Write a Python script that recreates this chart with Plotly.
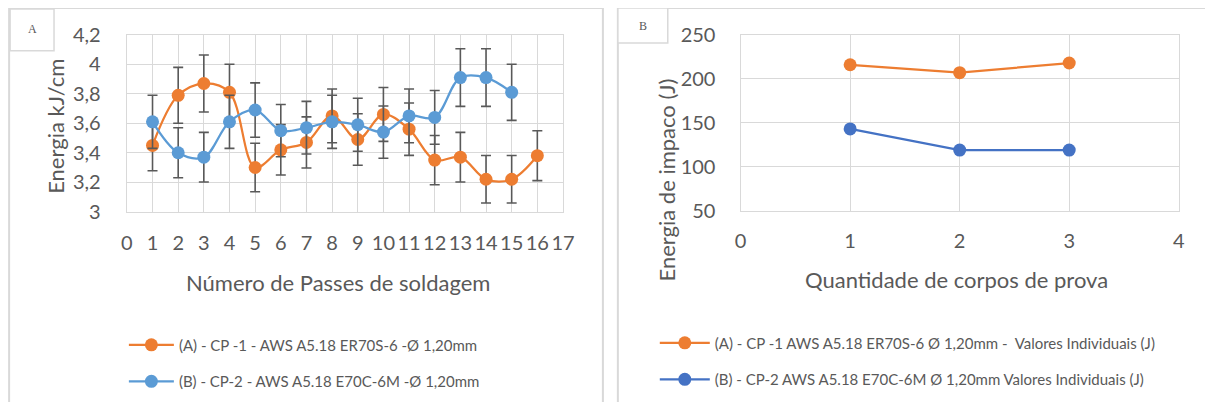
import plotly.graph_objects as go

# figure size and the measured mapping from figure paper space to the photographed picture
W, H = 1197, 394
PIC_X0, PIC_XW = 12.9, 1181.4
PIC_Y0, PIC_YH = 19.1, 370.4

# ---------------- data ----------------
passes = list(range(1, 17))
energia_A = [3.45, 3.79, 3.87, 3.81, 3.30, 3.42, 3.47, 3.65, 3.49, 3.66, 3.56, 3.35, 3.37, 3.22, 3.22, 3.38]
passes_B = list(range(1, 16))
energia_B = [3.61, 3.40, 3.37, 3.61, 3.69, 3.55, 3.57, 3.61, 3.59, 3.54, 3.65, 3.64, 3.91, 3.91, 3.81]
err_pct = 5

left_yticks = [3.0, 3.2, 3.4, 3.6, 3.8, 4.0, 4.2]
left_yticktext = ["3", "3,2", "3,4", "3,6", "3,8", "4", "4,2"]
left_xticks = list(range(0, 18))

corpos = [1, 2, 3]
impacto_A = [216, 207, 218]
impacto_B = [143, 119, 119]
right_yticks = [50, 100, 150, 200, 250]
right_xticks = [0, 1, 2, 3, 4]

name_A_left = "(A) - CP -1 - AWS A5.18 ER70S-6 -Ø 1,20mm"
name_B_left = "(B) - CP-2 - AWS A5.18 E70C-6M -Ø 1,20mm"
name_A_right = "(A) - CP -1 AWS A5.18 ER70S-6 Ø 1,20mm -  Valores Individuais (J)"
name_B_right = "(B) - CP-2 AWS A5.18 E70C-6M Ø 1,20mm Valores Individuais (J)"

ORANGE = "#ED7D31"
BLUE_L = "#5B9BD5"
BLUE_R = "#4472C4"
GRAY_T = "#595959"
GRID = "#D9D9D9"
FONT = "Lato"


def px(x):
    return (x - PIC_X0) / PIC_XW


def py(y):
    return 1 - (y - PIC_Y0) / PIC_YH


fig = go.Figure()
fig.add_trace(go.Scatter(
    x=passes, y=energia_A, mode="lines+markers", name=name_A_left,
    line=dict(color=ORANGE, width=2.25, shape="spline", smoothing=1.0),
    marker=dict(color=ORANGE, size=13),
    error_y=dict(type="percent", value=err_pct, color=GRAY_T, thickness=1.6, width=5),
    xaxis="x", yaxis="y", legend="legend", legendgroup="a",
))
fig.add_trace(go.Scatter(
    x=passes_B, y=energia_B, mode="lines+markers", name=name_B_left,
    line=dict(color=BLUE_L, width=2.25, shape="spline", smoothing=1.0),
    marker=dict(color=BLUE_L, size=13),
    error_y=dict(type="percent", value=err_pct, color=GRAY_T, thickness=1.6, width=5),
    xaxis="x", yaxis="y", legend="legend", legendgroup="b",
))
fig.add_trace(go.Scatter(
    x=corpos, y=impacto_A, mode="lines+markers", name=name_A_right,
    line=dict(color=ORANGE, width=2.25), marker=dict(color=ORANGE, size=13),
    xaxis="x2", yaxis="y2", legend="legend2", legendgroup="c",
))
fig.add_trace(go.Scatter(
    x=corpos, y=impacto_B, mode="lines+markers", name=name_B_right,
    line=dict(color=BLUE_R, width=2.25), marker=dict(color=BLUE_R, size=13),
    xaxis="x2", yaxis="y2", legend="legend2", legendgroup="d",
))

axis_common = dict(
    showgrid=True, gridcolor=GRID, gridwidth=1.3,
    showline=True, linecolor=GRID, linewidth=1.3, mirror=True,
    zeroline=False, ticks="", tickfont=dict(family=FONT, size=20, color=GRAY_T),
)


def note(text, x, y, size=22, angle=0, family=FONT):
    return dict(text=text, x=px(x), y=py(y), xref="paper", yref="paper", showarrow=False,
                xanchor="center", yanchor="middle", textangle=angle,
                font=dict(family=family, size=size, color=GRAY_T))


def box(x0, y0, x1, y1, width=2, fill=None):
    d = dict(type="rect", xref="paper", yref="paper", x0=px(x0), x1=px(x1), y0=py(y1), y1=py(y0),
             line=dict(color=GRID, width=width))
    if fill:
        d["fillcolor"] = fill
    return d


fig.update_layout(
    width=W, height=H, margin=dict(l=0, r=0, t=0, b=0),
    paper_bgcolor="white", plot_bgcolor="white",
    font=dict(family=FONT, color=GRAY_T),
    xaxis=dict(domain=[px(126), px(563)], range=[0, 17], tickvals=left_xticks, anchor="y",
               ticklabelstandoff=13, **axis_common),
    yaxis=dict(domain=[py(210), py(33)], range=[3.0, 4.2], tickvals=left_yticks, ticktext=left_yticktext,
               anchor="x", ticklabelstandoff=21, **axis_common),
    xaxis2=dict(domain=[px(741), px(1180)], range=[0, 4], tickvals=right_xticks, anchor="y2",
                ticklabelstandoff=12, **axis_common),
    yaxis2=dict(domain=[py(209), py(33)], range=[50, 250], tickvals=right_yticks, anchor="x2",
                ticklabelstandoff=20, **axis_common),
    legend=dict(x=px(123), y=py(327), xanchor="left", yanchor="top", bgcolor="rgba(0,0,0,0)",
                font=dict(family=FONT, size=15, color=GRAY_T), itemwidth=45,
                traceorder="grouped", tracegroupgap=14),
    legend2=dict(x=px(655), y=py(325), xanchor="left", yanchor="top", bgcolor="rgba(0,0,0,0)",
                 font=dict(family=FONT, size=15, color=GRAY_T), itemwidth=50,
                 traceorder="grouped", tracegroupgap=14),
    shapes=[
        box(8, 6, 603, 420),
        box(618, 6, 1230, 408),
        box(9, 7, 53, 49, width=1.5, fill="white"),
        box(618, 6, 668, 41, width=1.5, fill="white"),
    ],
    annotations=[
        note("A", 31, 27, size=12, family="Liberation Serif"),
        note("B", 643, 24, size=12, family="Liberation Serif"),
        note("Energia kJ/cm", 55, 125, angle=-90),
        note("Número de Passes de soldagem", 338, 281),
        note("Energia de impaco (J)", 667, 178, angle=-90),
        note("Quantidade de corpos de prova", 957, 278),
    ],
)

fig.write_html("out.html")
